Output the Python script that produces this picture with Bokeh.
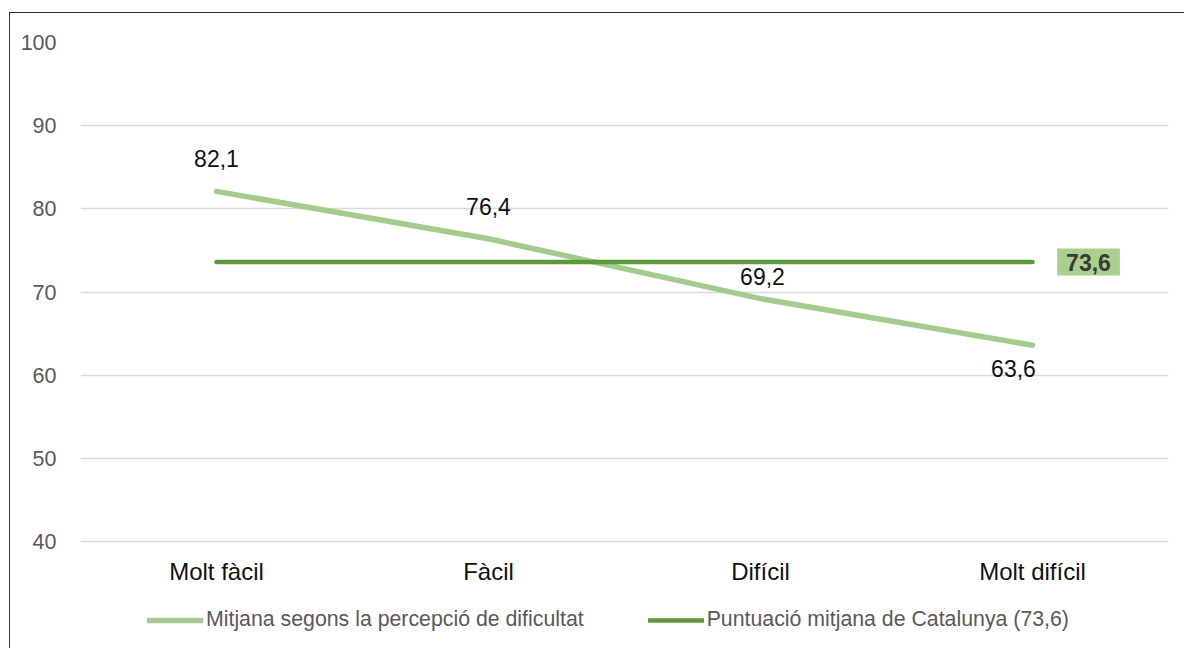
from bokeh.plotting import figure
from bokeh.models import ColumnDataSource, FactorRange, Range1d, Legend, LegendItem
from bokeh.core.properties import value
from bokeh.embed import file_html
from bokeh.resources import INLINE

# Data
categories = ["Molt fàcil", "Fàcil", "Difícil", "Molt difícil"]
mean_by_difficulty = [82.1, 76.4, 69.2, 63.6]
catalonia_mean = 73.6
value_labels = ["82,1", "76,4", "69,2", "63,6"]
y_ticks = [40, 50, 60, 70, 80, 90, 100]
y_min, y_max = 40, 100

FONT = "Liberation Sans"
LIGHT = "#a3cb8c"
DARK = "#5d993a"

# Layout: the value axis spans 499 px; the frame runs on below it to hold
# the category labels and the legend.
W, H = 1184, 648
TOP, LEFT, RIGHT = 42, 80, 16
AXIS_PX = 499
extra = (H - TOP - AXIS_PX) * (y_max - y_min) / AXIS_PX

p = figure(
    width=W, height=H,
    x_range=FactorRange(*categories, range_padding=0),
    y_range=Range1d(y_min - extra, y_max),
    output_backend="svg", toolbar_location=None,
    min_border_left=LEFT, min_border_right=RIGHT,
    min_border_top=TOP, min_border_bottom=0,
)
p.outline_line_color = None
p.background_fill_color = "white"
p.border_fill_color = "white"

# thin border around the chart area, open towards the right and bottom edges
p.stylesheets = [
    ":host { position: relative; }"
    ":host::after { content: ''; position: absolute; left: 9px; top: 12px;"
    " width: calc(100% - 9px); height: calc(100% - 12px);"
    " border-left: 1.3px solid #333333; border-top: 1.3px solid #333333;"
    " box-sizing: border-box; pointer-events: none; }"
]

# Value axis
p.yaxis.ticker = y_ticks
p.yaxis.axis_line_color = None
p.yaxis.major_tick_line_color = None
p.yaxis.minor_tick_line_color = None
p.yaxis.major_label_text_font = FONT
p.yaxis.major_label_text_font_size = "21.5px"
p.yaxis.major_label_text_color = "#595959"
p.yaxis.major_label_standoff = 18

p.xaxis.visible = False
p.xgrid.grid_line_color = None
p.ygrid.grid_line_color = "#d9d9d9"
p.ygrid.grid_line_width = 1.5

# Category labels under the lowest gridline
p.text(x=categories, y=[y_min] * len(categories), text=categories, y_offset=30,
       text_align="center", text_baseline="middle",
       text_font=value(FONT), text_font_size="24px", text_color="#111111")

# Series
src = ColumnDataSource(dict(cat=categories, val=mean_by_difficulty, lab=value_labels,
                            dx=[0, 0, 2, -19], dy=[-33, -32, -22, 23]))
avg_src = ColumnDataSource(dict(cat=categories, val=[catalonia_mean] * len(categories)))

r_mean = p.line("cat", "val", source=src, line_color=LIGHT, line_width=5.5, line_cap="round")
r_avg = p.line("cat", "val", source=avg_src, line_color=DARK, line_width=4.5, line_cap="round")

# Value labels
p.text("cat", "val", text="lab", source=src, x_offset="dx", y_offset="dy",
       text_align="center", text_baseline="middle",
       text_font=value(FONT), text_font_size="23px", text_color="#111111")

# Highlighted average label
p.text(x=[categories[-1]], y=[catalonia_mean], text=["73,6"], x_offset=56,
       text_align="center", text_baseline="middle",
       text_font=value(FONT), text_font_size="23px", text_font_style="bold",
       text_color="#3a3a3a", background_fill_color="#a9d18e", padding=[9, 5])

# Legend
legend = Legend(
    items=[LegendItem(label="Mitjana segons la percepció de dificultat", renderers=[r_mean]),
           LegendItem(label="Puntuació mitjana de Catalunya (73,6)", renderers=[r_avg])],
    orientation="horizontal", location=(67, 16),
    glyph_width=56, glyph_height=24, label_standoff=3, spacing=64,
    padding=0, margin=0, border_line_color=None, background_fill_alpha=0,
    label_text_font=FONT, label_text_font_size="21.3px", label_text_color="#595959",
)
p.add_layout(legend, "center")

open("out.html", "w").write(file_html(p, INLINE))
